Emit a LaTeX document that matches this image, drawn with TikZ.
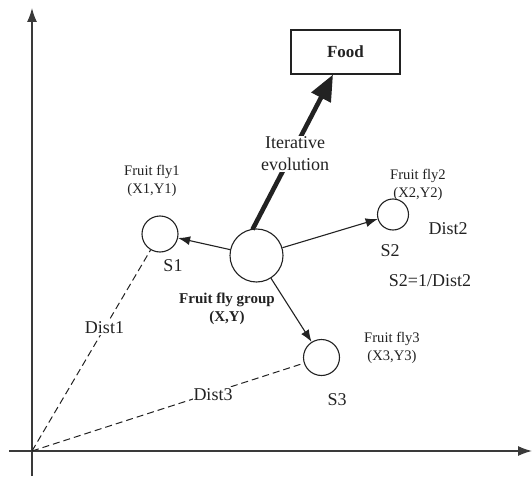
\documentclass[tikz,border=0pt]{standalone}
\usepackage{fontspec}
\setmainfont{Liberation Serif}
\usetikzlibrary{arrows.meta}
\definecolor{ink}{HTML}{222222}
\definecolor{axisgray}{HTML}{3A3A3A}
\begin{document}
\begin{tikzpicture}[x=1pt,y=-1pt,
  fly/.style={circle,draw=ink,line width=1.1pt,inner sep=0pt,fill=white},
  big/.style={font=\fontsize{18}{21}\selectfont,text=ink,inner sep=1pt},
  small/.style={font=\fontsize{14.6}{18}\selectfont,text=ink,inner sep=1pt,align=center},
  gap/.style={fill=white,inner sep=1pt},
  move/.style={draw=ink,line width=1.1pt,-{Latex[length=12pt,width=9pt]}},
  dist/.style={draw=ink,line width=1pt,dash pattern=on 7pt off 4pt},
  axis/.style={draw=axisgray,line width=1.3pt,-{Latex[length=14pt,width=10pt]}}]
\useasboundingbox (0,0) rectangle (532,476);

% axes
\coordinate (o) at (32,451);
\coordinate (ybot) at (32,476);
\coordinate (ytop) at (32,8);
\coordinate (xleft) at (9,451);
\coordinate (xright) at (532,451);
\draw[axis] (ybot) -- (ytop);
\draw[axis] (xleft) -- (xright);

% food source
\node[draw=ink,line width=1.1pt,minimum width=109pt,minimum height=44pt,
      font=\bfseries\fontsize{17}{20}\selectfont,text=ink] (food) at (345.5,52) {Food};

% fruit flies
\node[fly,minimum size=53pt] (g) at (256.5,255.5) {};
\node[fly,minimum size=36pt] (s1) at (160,234) {};
\node[fly,minimum size=31pt] (s2) at (393,214.5) {};
\node[fly,minimum size=36pt] (s3) at (321.5,357.5) {};

% flight of the swarm toward the food
\draw[draw=ink,line width=4.6pt,-{Triangle[length=26pt,width=21pt]}]
  (g.north) ++(-4,1) coordinate (gt) -- (food.south -| 333,0);
\node[big,gap,align=center,font=\fontsize{18}{22}\selectfont] (iter) at (295,154) {Iterative\\evolution};

% random search moves
\draw[move] (g) -- (s1);
\draw[move] (g) -- (s2);
\draw[move] (g) -- (s3);

% distances to the origin
\draw[dist] (o) -- (s1);
\draw[dist] (o) -- (s3);
\node[big,gap] (d1) at (104.5,328) {Dist1};
\node[big,gap] (d3) at (213,394.5) {Dist3};

% labels
\node[small] (f1) at (152,181) {Fruit fly1\\(X1,Y1)};
\node[small] (f2) at (418,185) {Fruit fly2\\(X2,Y2)};
\node[small] (f3) at (392,347.5) {Fruit fly3\\(X3,Y3)};
\node[big] (l1) at (173,266) {S1};
\node[big] (l2) at (390,251) {S2};
\node[big] (l3) at (337,400) {S3};
\node[big] (dd2) at (448,229) {Dist2};
\node[big] (eq) at (430,281) {S2=1/Dist2};
\node[font=\bfseries\fontsize{15}{18}\selectfont,text=ink,align=center] (grp) at (227,309) {Fruit fly group\\(X,Y)};
\end{tikzpicture}
\end{document}
